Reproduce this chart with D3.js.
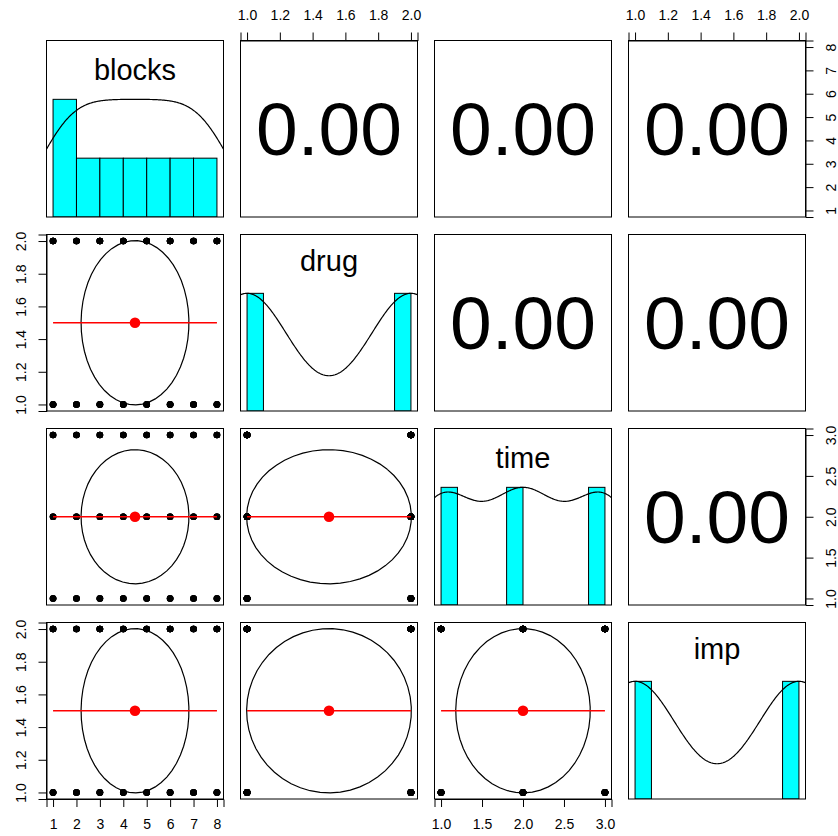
<!DOCTYPE html>
<html>
<head>
<meta charset="utf-8">
<script src="https://cdn.jsdelivr.net/npm/d3@7"></script>
<style>
  body { margin: 0; background: #fff; }
  svg { display: block; font-family: "Liberation Sans", Arial, Helvetica, sans-serif; }
</style>
</head>
<body>
<div id="run"></div>
<script>
var width = 838,
    height = 836;

// variables and their observed levels (full factorial design)
var varNames = ["blocks", "drug", "time", "imp"];
var blocksLevels = [1, 2, 3, 4, 5, 6, 7, 8];
var drugLevels = [1, 2];
var timeLevels = [1, 2, 3];
var impLevels = [1, 2];

// correlations printed in the upper panels, row by row
var corrValues = [0.00, 0.00, 0.00, 0.00, 0.00, 0.00];

// histogram breaks
var blocksBreaks = [1, 2, 3, 4, 5, 6, 7, 8];
var drugBreaks = [1.0, 1.1, 1.2, 1.3, 1.4, 1.5, 1.6, 1.7, 1.8, 1.9, 2.0];
var timeBreaks = [1.0, 1.2, 1.4, 1.6, 1.8, 2.0, 2.2, 2.4, 2.6, 2.8, 3.0];
var impBreaks = [1.0, 1.1, 1.2, 1.3, 1.4, 1.5, 1.6, 1.7, 1.8, 1.9, 2.0];

// tick labels
var blocksTicks = [1, 2, 3, 4, 5, 6, 7, 8];
var drugTicks = [1.0, 1.2, 1.4, 1.6, 1.8, 2.0];
var timeTicks = [1.0, 1.5, 2.0, 2.5, 3.0];
var impTicks = [1.0, 1.2, 1.4, 1.6, 1.8, 2.0];

var breaks = [blocksBreaks, drugBreaks, timeBreaks, impBreaks];
var ticks = [blocksTicks, drugTicks, timeTicks, impTicks];
var tickFmt = [d3.format("d"), d3.format(".1f"), d3.format(".1f"), d3.format(".1f")];

var rows = [];
blocksLevels.forEach(function(b) {
  drugLevels.forEach(function(d) {
    timeLevels.forEach(function(t) {
      impLevels.forEach(function(m) {
        rows.push([b, d, t, m]);
      });
    });
  });
});
var cols = varNames.map(function(n, k) { return rows.map(function(r) { return r[k]; }); });

// panel layout
var x0 = 46.5, y0 = 40.5, pitch = 194, pw = 177, ph = 176.5;
function pLeft(j) { return x0 + j * pitch; }
function pTop(i) { return y0 + i * pitch; }

function varScale(k, lo, hi) {
  var ext = d3.extent(cols[k]), r = ext[1] - ext[0];
  return d3.scaleLinear().domain([ext[0] - 0.04 * r, ext[1] + 0.04 * r]).range([lo, hi]);
}

// R style hist counts: right closed, lowest included
function histCounts(v, br) {
  var c = br.slice(1).map(function() { return 0; });
  v.forEach(function(x) {
    for (var k = 0; k < c.length; k++) {
      if ((x > br[k] || (k == 0 && x >= br[k])) && x <= br[k + 1] + 1e-9) { c[k]++; break; }
    }
  });
  return c;
}

// density(bw = "nrd", adjust = 1.2)
function density(v) {
  var s = v.slice().sort(d3.ascending);
  var sd = d3.deviation(s);
  var iqr = d3.quantile(s, 0.75) - d3.quantile(s, 0.25);
  var bw = 1.06 * Math.min(sd, iqr / 1.34) * Math.pow(s.length, -0.2) * 1.2;
  var lo = s[0] - 3 * bw, hi = s[s.length - 1] + 3 * bw, n = 512;
  var pts = [];
  for (var k = 0; k < n; k++) {
    var x = lo + (hi - lo) * k / (n - 1), y = 0;
    s.forEach(function(xi) { var u = (x - xi) / bw; y += Math.exp(-0.5 * u * u); });
    pts.push([x, y]);
  }
  var m = d3.max(pts, function(p) { return p[1]; });
  return pts.map(function(p) { return [p[0], p[1] / m]; });
}

var svg = d3.select("#run").append("svg")
    .attr("width", width)
    .attr("height", height);

var defs = svg.append("defs");

var nv = varNames.length, ci = 0;
for (var i = 0; i < nv; i++) {
  for (var j = 0; j < nv; j++) {
    var L = pLeft(j), T = pTop(i), R = L + pw, B = T + ph;
    var g = svg.append("g");
    var clipId = "clip" + i + "_" + j;
    defs.append("clipPath").attr("id", clipId)
      .append("rect").attr("x", L).attr("y", T).attr("width", pw).attr("height", ph);
    var inner = g.append("g").attr("clip-path", "url(#" + clipId + ")");

    if (i == j) {
      var x = varScale(j, L, R);
      var y = d3.scaleLinear().domain([0, 1.5]).range([B, T]);
      var cnt = histCounts(cols[j], breaks[j]);
      var mx = d3.max(cnt), br = breaks[j];
      inner.selectAll("rect.bar")
        .data(cnt.map(function(c, k) { return {x0: br[k], x1: br[k + 1], h: c / mx}; })
          .filter(function(d) { return d.h > 0; }))
        .enter().append("rect")
        .attr("x", function(d) { return x(d.x0); })
        .attr("y", function(d) { return y(d.h); })
        .attr("width", function(d) { return x(d.x1) - x(d.x0); })
        .attr("height", function(d) { return y(0) - y(d.h); })
        .attr("fill", "#00ffff")
        .attr("stroke", "#000")
        .attr("stroke-width", 1);
      inner.append("path")
        .datum(density(cols[j]))
        .attr("d", d3.line().x(function(d) { return x(d[0]); }).y(function(d) { return y(d[1]); }))
        .attr("fill", "none")
        .attr("stroke", "#000")
        .attr("stroke-width", 1.2);
      var nm = varNames[j];
      g.append("text")
        .attr("x", (L + R) / 2)
        .attr("y", T + (/[gjpqy]/.test(nm) ? 36.5 : 39.5))
        .attr("text-anchor", "middle")
        .style("font-size", "29px")
        .text(nm);
    } else if (i < j) {
      g.append("text")
        .attr("x", (L + R) / 2)
        .attr("y", (T + B) / 2 + 26.5)
        .attr("text-anchor", "middle")
        .style("font-size", "75px")
        .text(d3.format(".2f")(Math.abs(corrValues[ci++])));
    } else {
      var x = varScale(j, L, R), y = varScale(i, B, T);
      var xs = cols[j], ys = cols[i];
      inner.selectAll("circle.pt")
        .data(rows)
        .enter().append("circle")
        .attr("cx", function(d) { return x(d[j]); })
        .attr("cy", function(d) { return y(d[i]); })
        .attr("r", 3.3)
        .attr("fill", "#000");
      // correlation ellipse (psych draw.ellipse, 1 sd)
      var r = d3.sum(xs, function(v, k) { return (v - d3.mean(xs)) * (ys[k] - d3.mean(ys)); }) /
              ((xs.length - 1) * d3.deviation(xs) * d3.deviation(ys));
      if (Math.abs(r) < 1e-12) r = 0;
      var th = r != 0 ? Math.sign(r) / Math.SQRT2 : 1 / Math.SQRT2;
      var a = Math.sqrt(1 + r), b = Math.sqrt(1 - r);
      var ell = d3.range(52).map(function(k) {
        var t = k * 2 * Math.PI / 51, c = Math.cos(t), s = Math.sin(t);
        return [(c * a * th - s * b * th) * d3.deviation(xs) + d3.mean(xs),
                (c * a * th + s * b * th) * d3.deviation(ys) + d3.mean(ys)];
      });
      inner.append("path")
        .datum(ell)
        .attr("d", d3.line().x(function(d) { return x(d[0]); }).y(function(d) { return y(d[1]); }))
        .attr("fill", "none")
        .attr("stroke", "#000")
        .attr("stroke-width", 1.2);
      // smooth: group means along x
      var sm = d3.rollups(rows, function(v) { return d3.mean(v, function(d) { return d[i]; }); },
                          function(d) { return d[j]; })
                 .sort(function(p, q) { return p[0] - q[0]; });
      inner.append("path")
        .datum(sm)
        .attr("d", d3.line().x(function(d) { return x(d[0]); }).y(function(d) { return y(d[1]); }))
        .attr("fill", "none")
        .attr("stroke", "#ff0000")
        .attr("stroke-width", 1.5);
      inner.append("circle")
        .attr("cx", x(d3.mean(xs)))
        .attr("cy", y(d3.mean(ys)))
        .attr("r", 5.3)
        .attr("fill", "#ff0000");
    }

    g.append("rect")
      .attr("x", L).attr("y", T).attr("width", pw).attr("height", ph)
      .attr("fill", "none")
      .attr("stroke", "#000")
      .attr("stroke-width", 1);

    // axes, alternating like pairs()
    if (i == 0 && j % 2 == 1) {
      g.call(topAxis, varScale(j, L, R), ticks[j], tickFmt[j], T);
    }
    if (i == nv - 1 && j % 2 == 0) {
      g.call(bottomAxis, varScale(j, L, R), ticks[j], tickFmt[j], B);
    }
    if (j == 0 && i % 2 == 1) {
      g.call(sideAxis, varScale(i, B, T), ticks[i], tickFmt[i], L, -1);
    }
    if (j == nv - 1 && i % 2 == 0) {
      g.call(sideAxis, varScale(i, B, T), ticks[i], tickFmt[i], R, 1);
    }
  }
}

function topAxis(sel, sc, tk, fmt, T) {
  var a = sel.append("g").attr("transform", "translate(0," + T + ")")
    .call(d3.axisTop(sc).tickValues(tk).tickFormat(fmt).tickSize(8).tickPadding(13));
  styleAxis(a);
}

function bottomAxis(sel, sc, tk, fmt, B) {
  var a = sel.append("g").attr("transform", "translate(0," + B + ")")
    .call(d3.axisBottom(sc).tickValues(tk).tickFormat(fmt).tickSize(8).tickPadding(12));
  styleAxis(a);
}

function sideAxis(sel, sc, tk, fmt, X, dir) {
  var ax = dir < 0 ? d3.axisLeft(sc) : d3.axisRight(sc);
  var a = sel.append("g").attr("transform", "translate(" + X + ",0)")
    .call(ax.tickValues(tk).tickFormat(fmt).tickSize(8));
  styleAxis(a);
  a.selectAll(".tick text")
    .attr("x", null).attr("dy", null)
    .attr("text-anchor", "middle")
    .attr("transform", dir < 0 ? "translate(-20.5,0) rotate(-90)" : "translate(30,0) rotate(-90)");
}

function styleAxis(a) {
  a.select(".domain").attr("stroke", "#000");
  a.selectAll(".tick line").attr("stroke", "#000");
  a.selectAll(".tick text")
    .attr("fill", "#000")
    .style("font-size", "14px")
    .style("font-family", "'Liberation Sans', Arial, Helvetica, sans-serif");
}
</script>
</body>
</html>
